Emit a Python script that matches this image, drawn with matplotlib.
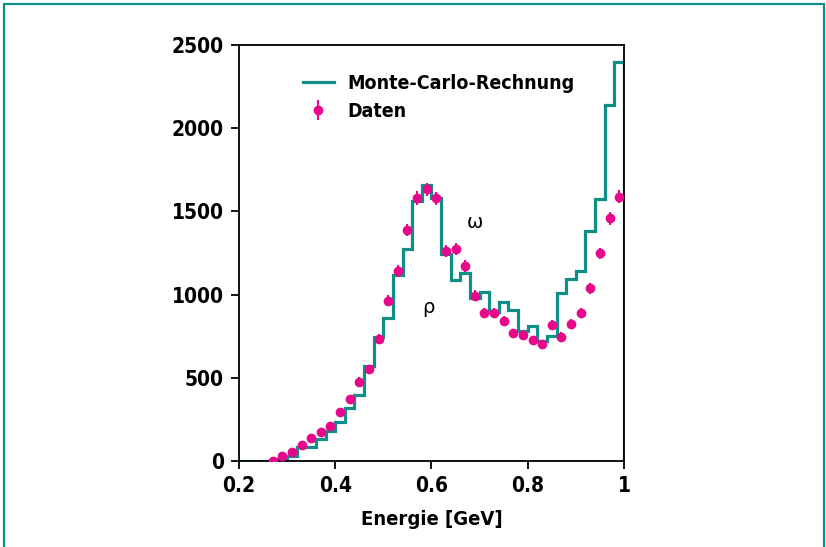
import matplotlib
matplotlib.use("Agg")
import matplotlib.pyplot as plt
from matplotlib import font_manager
from matplotlib.patches import Rectangle
import numpy as np

# Monte-Carlo histogram, bins of 0.02 GeV from 0.20 to 1.00
bin_edges = np.round(np.arange(0.20, 1.0001, 0.02), 2)
mc_counts = [0, 0, 0, 0, 10, 28, 82, 82, 130, 180,
             232, 316, 396, 571, 747, 861, 1116, 1272, 1564, 1659,
             1579, 1242, 1090, 1128, 982, 1014, 894, 958, 907, 781,
             811, 721, 753, 1007, 1092, 1144, 1382, 1573, 2140, 2400]

# measured data at bin centres
data_x = [0.27, 0.29, 0.31, 0.33, 0.35, 0.37, 0.39, 0.41, 0.43, 0.45,
          0.47, 0.49, 0.51, 0.53, 0.55, 0.57, 0.59, 0.61, 0.63, 0.65,
          0.67, 0.69, 0.71, 0.73, 0.75, 0.77, 0.79, 0.81, 0.83, 0.85,
          0.87, 0.89, 0.91, 0.93, 0.95, 0.97, 0.99]
data_y = [3, 30, 54, 96, 136, 176, 212, 292, 370, 477,
          551, 733, 962, 1142, 1388, 1580, 1633, 1579, 1260, 1272,
          1172, 993, 888, 888, 843, 767, 757, 727, 703, 817,
          747, 823, 888, 1038, 1248, 1459, 1589]
data_err = [3, 8, 10, 12, 14, 16, 18, 20, 22, 25,
            27, 30, 33, 35, 38, 40, 40, 40, 36, 36,
            34, 32, 30, 30, 29, 28, 28, 27, 27, 29,
            27, 29, 30, 32, 35, 38, 40]

x_ticks = [0.2, 0.4, 0.6, 0.8, 1.0]
x_tick_labels = ["0.2", "0.4", "0.6", "0.8", "1"]
y_ticks = [0, 500, 1000, 1500, 2000, 2500]

teal = "#0e8f86"
pink = "#e8078a"


# look for a narrow bold font file (like Helvetica Condensed in the original)
def narrow_bold(size):
    files = [f.fname for f in font_manager.fontManager.ttflist]
    for key in ["LiberationSansNarrow-Bold.", "DejaVuSansCondensed-Bold.",
                "RobotoCondensed-Bold", "OpenSans_Condensed-Bold",
                "OpenSansCondensed-Bold", "Condensed-Bold", "Narrow-Bold"]:
        for fn in files:
            if key in fn.replace(" ", ""):
                return font_manager.FontProperties(fname=fn, size=size)
    return font_manager.FontProperties(family="DejaVu Sans", weight="bold",
                                       stretch="condensed", size=size)


fig = plt.figure(figsize=(8.26, 5.47), dpi=100)
ax = fig.add_axes([0.2893, 0.1572, 0.4661, 0.7605])

ax.stairs(mc_counts, bin_edges, color=teal, linewidth=2.3,
          label="Monte-Carlo-Rechnung", zorder=2)
ax.errorbar(data_x, data_y, yerr=data_err, fmt="o", color=pink,
            markersize=6, elinewidth=1.5, capsize=0, label="Daten",
            zorder=3)

ax.set_xlim(0.2, 1.0)
ax.set_ylim(0, 2500)
ax.set_xticks(x_ticks)
ax.set_xticklabels(x_tick_labels)
ax.set_yticks(y_ticks)
for lab in ax.get_xticklabels() + ax.get_yticklabels():
    lab.set_fontproperties(narrow_bold(15))
ax.tick_params(direction="out", length=6, width=1.3, pad=5)
for sp in ax.spines.values():
    sp.set_linewidth(1.3)

ax.set_xlabel("Energie [GeV]", fontproperties=narrow_bold(14.5), labelpad=10)

ax.text(0.69, 1436, "ω", fontsize=14, ha="center", va="center")
ax.text(0.594, 925, "ρ", fontsize=14, ha="center", va="center")

leg = ax.legend(loc="upper left", bbox_to_anchor=(0.12, 0.972),
                frameon=False, handlelength=1.6, handletextpad=0.7,
                labelspacing=0.45, prop=narrow_bold(14))

# teal frame round the figure (open at the bottom)
fig.patches.append(Rectangle((0.0054, -0.02), 0.9916, 1.0136,
                             transform=fig.transFigure, fill=False,
                             edgecolor=teal, linewidth=1.6))

fig.savefig("out.png", dpi=100)
